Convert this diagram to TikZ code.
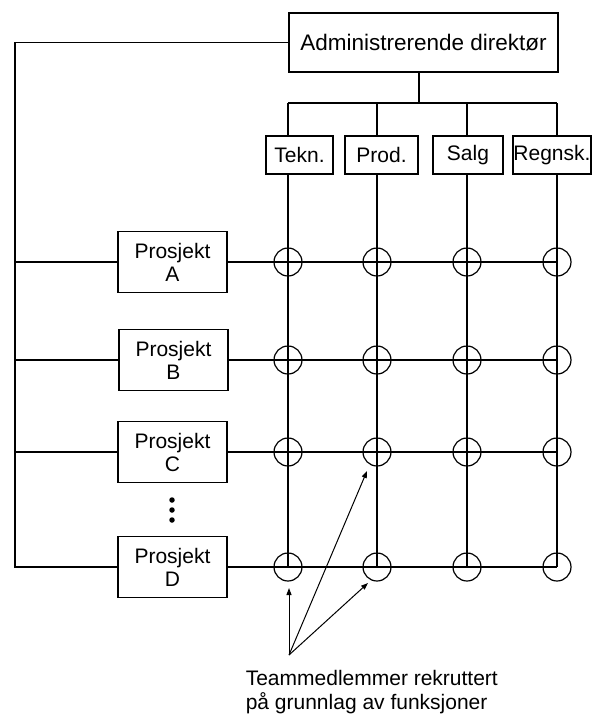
\documentclass[tikz,border=0pt]{standalone}
\usepackage{fontspec}
\setmainfont{Liberation Sans}
\usetikzlibrary{arrows.meta}
\begin{document}
\begin{tikzpicture}[x=1pt,y=-1pt,
  line width=1.6pt,
  every node/.style={font=\fontsize{21}{23}\selectfont},
  boxnode/.style={draw,rectangle,inner sep=0pt,align=center,line width=1.6pt},
  crossing/.style={draw,circle,minimum size=28pt,inner sep=0pt,line width=1.2pt},
  pointer/.style={line width=1pt,-{Triangle[length=7pt,width=5pt]}},
  dotmark/.style={fill,circle,inner sep=0pt,minimum size=5.5pt}]
\useasboundingbox (0,0) rectangle (592,716);

% top box and departments
\node[boxnode,minimum width=269pt,minimum height=59pt,font=\fontsize{22.5}{24}\selectfont] (dir) at (423.5,42.5) {Administrerende direktør};
\node[boxnode,minimum width=67pt,minimum height=38pt] (tekn) at (299.5,155) {Tekn.};
\node[boxnode,minimum width=73pt,minimum height=38pt] (prod) at (381.5,155) {Prod.};
\node[boxnode,minimum width=70pt,minimum height=38pt] (salg) at (468,155) {Salg};
\node[boxnode,minimum width=78pt,minimum height=38pt] (regn) at (552,155) {Regnsk.};

% projects
\node[boxnode,minimum width=109pt,minimum height=61pt] (pa) at (172.5,262) {Prosjekt\\A};
\node[boxnode,minimum width=109pt,minimum height=61pt] (pb) at (173.5,360) {Prosjekt\\B};
\node[boxnode,minimum width=109pt,minimum height=61pt] (pc) at (172.5,452) {Prosjekt\\C};
\node[boxnode,minimum width=109pt,minimum height=61pt] (pd) at (172.5,567) {Prosjekt\\D};

% tree connectors
\coordinate (drop) at (419,72);
\coordinate (bar) at (419,103);
\coordinate (b1) at (288,103);
\coordinate (b2) at (377,103);
\coordinate (b3) at (467,103);
\coordinate (b4) at (557,103);
\draw (drop) -- (bar);
\draw (b1) -- (b4);
\draw (b1) -- (b1 |- tekn.north);
\draw (b2) -- (b2 |- prod.north);
\draw (b3) -- (b3 |- salg.north);
\draw (b4) -- (b4 |- regn.north);

% left line
\coordinate (lt) at (15,42.5);
\coordinate (lb) at (15,567);
\draw (dir.west) -- (lt) -- (lb) -- (pd.west);
\draw (pa.west -| lt) -- (pa.west);
\draw (pb.west -| lt) -- (pb.west);
\draw (pc.west -| lt) -- (pc.west);

% grid columns
\coordinate (e1) at (288,567);
\coordinate (e2) at (377,567);
\coordinate (e3) at (467,567);
\coordinate (e4) at (557,567);
\draw (b1 |- tekn.south) -- (e1);
\draw (b2 |- prod.south) -- (e2);
\draw (b3 |- salg.south) -- (e3);
\draw (b4 |- regn.south) -- (e4);

% grid rows
\draw (pa.east) -- (pa.east -| e4);
\draw (pb.east) -- (pb.east -| e4);
\draw (pc.east) -- (pc.east -| e4);
\draw (pd.east) -- (e4);

% crossing circles
\foreach \r/\p in {a/pa,b/pb,c/pc,d/pd}{
  \node[crossing] (\r1) at (\p.east -| e1) {};
  \node[crossing] (\r2) at (\p.east -| e2) {};
  \node[crossing] (\r3) at (\p.east -| e3) {};
  \node[crossing] (\r4) at (\p.east -| e4) {};
}

% dots
\node[dotmark] (dot1) at (172,500) {};
\node[dotmark] (dot2) at (172,510) {};
\node[dotmark] (dot3) at (172,520) {};

% arrows and caption
\coordinate (src) at (289,655);
\coordinate (t1) at (289,588);
\coordinate (t2) at (367,471);
\coordinate (t3) at (368,583);
\draw[pointer] (src) -- (t1);
\draw[pointer] (src) -- (t2);
\draw[pointer] (src) -- (t3);
\node[anchor=north west,align=left,inner sep=0pt,font=\fontsize{21}{24}\selectfont] (cap) at (245,669) {Teammedlemmer rekruttert\\på grunnlag av funksjoner};
\end{tikzpicture}
\end{document}
